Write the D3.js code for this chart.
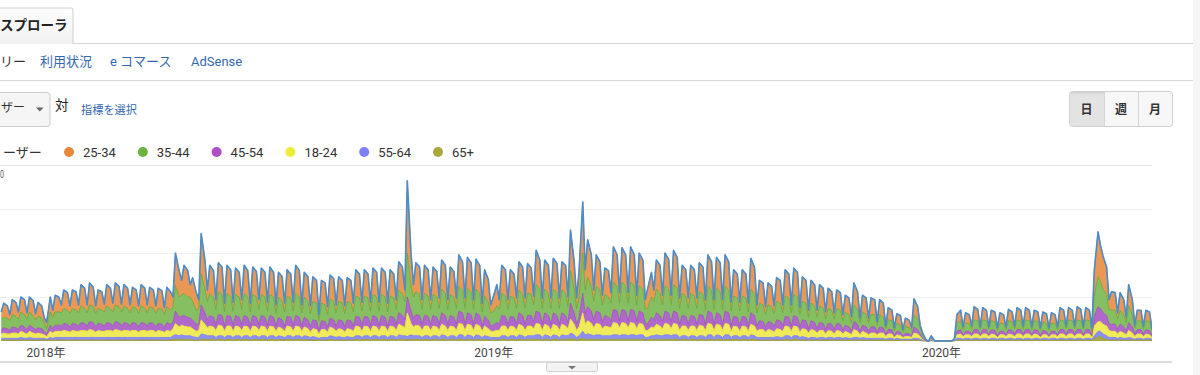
<!DOCTYPE html>
<html><head><meta charset="utf-8">
<script src="https://cdn.jsdelivr.net/npm/d3@7"></script>
<style>
html,body{margin:0;padding:0;background:#fff;overflow:hidden}
svg{display:block;font-family:Roboto,"Noto Sans CJK JP",Arial,sans-serif}
</style></head><body>
<svg id="c" width="1200" height="375"></svg>
<script>
// Readings per week starting Sun 2017-11-26: weekend (Sunday) and Tuesday values interleaved,
// plus a separate Friday reading per week.
const firstSunday = new Date(Date.UTC(2017, 10, 26));
const domainStart = new Date(Date.UTC(2017, 10, 25));
const domainEnd = new Date(Date.UTC(2020, 5, 21));

const age2534 = [
8,16,7,17,8,17,7,17,7,16,6,7,8,19,9,21,9,21,9,24,
9,25,9,21,9,24,10,25,9,24,9,22,9,24,9,22,9,23,8,22,
11,37,17,32,14,27,11,46,13,32,11,33,10,32,10,30,11,32,10,31,
11,30,10,31,9,28,10,30,10,32,9,28,9,28,7,26,9,27,9,28,
9,27,10,30,10,30,10,30,10,30,10,30,11,32,13,82,14,33,11,32,
11,31,12,33,11,31,12,36,12,35,11,34,10,30,9,17,11,32,11,30,
12,32,12,33,10,39,12,33,12,35,12,32,11,46,12,30,23,43,13,36,
11,30,12,40,12,39,12,40,11,37,11,23,13,33,11,37,11,39,12,32,
12,32,12,33,11,36,11,35,11,36,10,30,10,30,10,35,9,26,9,25,
9,27,9,30,9,30,8,28,8,26,8,24,8,23,7,21,7,19,7,25,
5,19,5,19,4,17,3,14,3,11,2,9,3,18,3,3,0,1,0,0,
0,0,0,10,3,12,3,15,3,14,3,12,3,12,3,13,3,14,3,14,
3,12,3,11,3,12,3,14,3,14,3,15,3,14,3,30,42,38,11,21,
7,20,6,24,3,12,3,12,
3];
const age3544 = [
12,12,11,14,12,15,12,15,11,13,10,6,13,15,15,17,15,17,15,19,
15,19,15,17,16,19,16,19,16,19,15,18,15,19,15,18,15,17,14,18,
18,29,24,25,24,21,17,35,21,25,17,26,16,25,16,24,17,25,16,24,
17,24,16,24,15,23,16,23,16,25,15,23,15,21,11,20,14,22,15,21,
15,21,16,23,16,23,16,24,16,24,16,23,17,26,21,50,24,26,17,25,
17,24,18,27,17,24,18,28,18,28,17,27,16,23,15,15,17,25,17,23,
18,26,18,26,19,30,18,27,18,27,18,26,18,37,18,23,27,33,21,28,
19,24,20,31,20,31,20,31,19,29,17,17,21,27,19,29,19,30,18,25,
18,25,18,26,17,28,17,28,17,28,16,23,16,23,16,27,15,20,14,19,
15,21,15,23,15,24,14,21,13,20,13,19,12,17,12,17,11,15,10,19,
10,15,10,14,8,14,6,11,6,9,5,8,6,14,7,3,0,2,0,0,
0,0,1,9,6,9,6,11,6,11,6,10,6,9,6,10,6,11,6,11,
6,10,6,10,6,9,6,11,6,11,6,11,6,11,6,23,30,27,17,16,
12,16,10,19,7,10,6,10,
5];
const age4554 = [
5,6,4,7,5,7,5,7,5,6,4,3,5,7,6,8,6,8,6,9,
6,9,6,8,6,9,6,9,6,9,6,9,6,9,6,9,6,8,6,9,
7,14,10,12,10,10,7,17,9,12,7,12,6,12,7,12,7,12,6,12,
7,12,7,12,6,11,6,11,7,12,6,11,6,10,4,10,6,10,6,10,
6,10,6,11,7,11,7,12,7,12,6,11,7,13,9,18,10,12,7,12,
7,12,7,13,7,12,7,14,7,13,7,13,6,11,6,7,7,12,7,11,
7,13,7,12,8,14,7,13,7,13,7,13,7,18,7,11,12,16,9,14,
8,12,8,15,8,15,8,15,8,14,7,8,9,13,8,14,8,14,7,12,
7,12,7,12,7,14,7,13,7,14,7,11,7,11,6,13,6,10,6,9,
6,10,6,11,6,12,6,10,5,10,5,9,5,8,5,8,4,7,4,9,
4,7,4,7,3,7,3,5,2,4,2,4,2,7,3,1,0,1,0,0,
0,0,0,4,2,4,3,5,2,5,2,5,2,4,2,5,3,5,3,5,
2,5,2,5,2,4,2,5,3,5,3,5,2,5,2,11,15,13,7,8,
5,8,4,9,3,5,3,5,
2];
const age1824 = [
5,6,5,6,5,7,5,7,5,6,4,3,6,7,7,8,6,8,7,8,
7,9,6,8,7,8,7,9,7,8,7,8,6,8,7,8,6,8,6,8,
8,13,11,11,10,9,8,16,9,11,8,12,7,11,7,11,8,11,7,11,
8,11,7,11,7,10,7,11,7,11,7,10,6,9,5,9,6,10,7,9,
6,9,7,11,7,11,7,11,7,11,7,11,8,12,9,27,10,12,8,11,
8,11,8,12,8,11,8,13,8,12,8,12,7,11,7,7,8,11,8,11,
8,12,8,11,8,13,8,12,8,12,8,12,8,16,8,10,12,15,9,13,
8,11,9,14,9,14,9,14,8,13,8,8,9,12,8,13,8,13,8,11,
8,11,8,12,8,13,8,12,8,13,7,11,7,11,7,12,7,9,6,9,
6,9,7,11,7,11,6,9,6,9,6,8,5,8,5,8,5,7,4,9,
4,7,4,6,4,6,3,5,2,4,2,3,2,6,3,1,0,1,0,0,
0,0,1,4,3,4,3,5,3,5,3,5,2,4,3,5,3,5,3,5,
3,5,2,4,2,4,3,5,3,5,3,5,3,5,2,11,11,11,8,7,
5,7,4,8,3,5,3,5,
2];
const age5564 = [
2,2,2,2,2,3,2,3,2,2,2,1,2,3,3,3,3,3,3,3,
3,3,3,3,3,3,3,3,3,3,3,3,3,3,3,3,3,3,3,3,
4,5,5,4,4,4,3,6,4,4,3,4,3,4,3,4,3,4,3,4,
3,4,3,4,3,4,3,4,3,4,3,4,3,4,2,3,3,4,3,4,
3,4,3,4,3,4,3,4,3,4,3,4,3,5,4,4,4,4,3,4,
3,4,3,5,3,4,3,5,3,5,3,5,3,4,3,3,3,4,3,4,
3,5,3,4,4,5,3,5,3,5,3,5,4,6,3,4,5,6,4,5,
4,4,4,5,4,5,4,5,4,5,3,3,4,5,4,5,4,5,3,4,
3,4,3,4,3,5,3,5,3,5,3,4,3,4,3,5,3,3,3,3,
3,4,3,4,3,4,3,4,2,3,2,3,2,3,2,3,2,3,2,3,
2,3,2,2,2,2,1,2,1,2,1,1,1,2,1,1,0,1,0,0,
0,0,1,2,1,2,1,2,1,2,1,2,1,2,1,2,1,2,1,2,
1,2,1,2,1,2,1,2,1,2,1,2,1,2,1,4,6,5,3,3,
2,3,2,3,1,2,1,2,
1];
const age65 = [
1,1,1,1,1,1,1,1,1,1,1,1,1,1,1,1,1,1,1,1,
1,1,1,1,1,1,1,1,1,1,1,1,1,1,1,1,1,1,1,1,
2,2,2,2,2,1,1,2,2,2,1,2,1,2,1,2,1,2,1,2,
1,2,1,2,1,2,1,2,1,2,1,2,1,1,1,1,1,2,1,1,
1,1,1,2,1,2,1,2,1,2,1,2,1,2,2,1,2,2,1,2,
1,2,1,2,1,2,1,2,1,2,1,2,1,2,1,1,1,2,1,2,
1,2,1,2,2,2,1,2,1,2,1,2,2,3,1,2,2,2,2,2,
2,2,2,2,2,2,2,2,2,2,1,1,2,2,2,2,2,2,1,2,
1,2,1,2,1,2,1,2,1,2,1,2,1,2,1,2,1,1,1,1,
1,1,1,2,1,2,1,1,1,1,1,1,1,1,1,1,1,1,1,1,
1,1,1,1,1,1,1,1,1,1,1,1,1,1,1,0,0,0,0,0,
0,0,0,1,1,1,1,1,1,1,1,1,1,1,1,1,1,1,1,1,
1,1,1,1,1,1,1,1,1,1,1,1,1,1,1,2,5,3,1,1,
1,1,1,1,1,1,1,1,
1];

// Friday readings, one per week
const fri2534 = [
14,16,17,18,14,17,17,20,21,23, 22,21,23,23,23,21,23,21,21,21,
30,30,20,33,30,31,30,28,30,29, 28,28,28,27,30,28,26,25,26,26,
26,27,27,28,28,27,31,37,31,30, 29,32,29,32,33,32,26,24,30,27,
31,30,33,32,33,32,32,58,36,32, 30,36,36,36,33,28,32,34,35,30,
30,31,32,33,32,27,27,31,25,23, 26,27,28,26,24,23,21,20,19,21,
19,17,16,12,11,9,15,0,0,0, 0,12,10,13,12,11,10,11,12,12,
11,11,10,12,12,13,12,51,31,20, 17,17,12,11];
const fri3544 = [
12,13,14,13,12,15,15,16,16,17, 18,16,17,18,17,17,17,17,17,16,
23,23,16,27,23,24,23,23,23,23, 23,23,21,22,23,21,20,19,21,20,
20,22,22,23,23,22,24,29,24,23, 23,25,23,26,26,25,20,19,23,22,
24,24,27,25,26,25,26,46,28,26, 23,28,28,28,27,23,25,27,28,23,
23,24,26,26,26,22,22,24,19,18, 20,22,23,20,19,17,16,16,14,16,
14,14,12,10,8,7,11,1,0,0, 0,10,9,10,10,10,9,10,10,10,
10,9,9,10,10,10,10,34,24,16, 14,14,10,10];
const fri4554 = [
6,6,7,6,6,7,7,8,8,8, 9,8,8,9,8,8,8,8,8,8,
11,11,8,13,11,12,11,11,11,11, 11,11,10,11,11,10,10,9,10,10,
10,11,11,11,11,11,12,14,12,11, 11,12,11,13,12,12,10,9,11,11,
12,12,13,12,12,12,13,22,14,13, 11,14,14,14,13,11,12,13,13,11,
11,12,13,12,13,11,11,12,9,9, 10,11,11,10,9,8,8,8,7,8,
7,7,6,5,4,3,5,0,0,0, 0,5,4,5,5,5,4,5,5,5,
5,4,4,5,5,5,5,17,12,8, 7,7,5,5];
const fri1824 = [
5,6,6,6,5,7,7,7,7,8, 8,7,8,8,8,8,8,8,7,7,
10,10,7,12,10,11,11,10,10,10, 10,10,9,10,10,9,9,9,9,9,
9,10,10,10,10,10,11,13,11,11, 10,11,10,12,12,11,9,8,11,10,
11,11,12,11,11,11,12,21,13,12, 10,13,13,13,12,10,11,12,12,11,
11,11,12,12,12,10,10,11,9,8, 9,10,10,9,8,8,7,7,6,7,
6,6,6,5,4,3,5,0,0,0, 0,5,4,5,5,4,4,4,5,5,
4,4,4,5,5,5,5,11,11,7, 6,6,5,4];
const fri5564 = [
2,2,2,2,2,3,3,3,3,3, 3,3,3,3,3,3,3,3,3,3,
4,4,3,5,4,4,4,4,4,4, 4,4,4,4,4,4,3,3,4,3,
3,4,4,4,4,4,4,5,4,4, 4,4,4,5,4,4,4,3,4,4,
4,4,5,4,4,4,5,8,5,5, 4,5,5,5,5,4,4,5,5,4,
4,4,5,4,5,4,4,4,3,3, 3,4,4,3,3,3,3,3,2,3,
2,2,2,2,1,1,2,0,0,0, 0,2,2,2,2,2,2,2,2,2,
2,2,2,2,2,2,2,6,4,3, 2,2,2,2];
const fri65 = [
1,1,1,1,1,1,1,1,1,1, 1,1,1,1,1,1,1,1,1,1,
2,2,1,2,2,2,2,2,2,2, 2,2,1,2,2,1,1,1,1,1,
1,2,2,2,2,2,2,2,2,2, 2,2,2,2,2,2,1,1,2,2,
2,2,2,2,2,2,2,3,2,2, 2,2,2,2,2,2,2,2,2,2,
2,2,2,2,2,2,2,2,1,1, 1,2,2,1,1,1,1,1,1,1,
1,1,1,1,1,1,1,0,0,0, 0,1,1,1,1,1,1,1,1,1,
1,1,1,1,1,1,1,5,2,1, 1,1,1,1];

const seriesKeys = ["65+","55-64","18-24","45-54","35-44","25-34"]; // stack bottom -> top
const seriesValues = {"25-34":age2534,"35-44":age3544,"45-54":age4554,"18-24":age1824,"55-64":age5564,"65+":age65};
const fridayValues = {"25-34":fri2534,"35-44":fri3544,"45-54":fri4554,"18-24":fri1824,"55-64":fri5564,"65+":fri65};
const legendLabels = ["25-34","35-44","45-54","18-24","55-64","65+"];
const yearLabels = ["2018年","2019年","2020年"];
const yearDates = [new Date(Date.UTC(2018,0,1)), new Date(Date.UTC(2019,0,1)), new Date(Date.UTC(2020,0,1))];
const yTicks = [50,100,150,200];
const navLabels = ["利用状況","e コマース","AdSense"];
const periodLabels = ["日","週","月"];

const dotColor = {"25-34":"#e8873a","35-44":"#6cb340","45-54":"#ab50c6","18-24":"#efeb3c","55-64":"#7f80f6","65+":"#a9a83e"};
const fillColor = {"25-34":"#ea9853","35-44":"#86bf61","45-54":"#b068ca","18-24":"#efeb5a","55-64":"#8e8ff3","65+":"#a8a84c"};
const edgeColor = {"25-34":"#e6852f","35-44":"#66a93d","45-54":"#a24ec0","18-24":"#e9e52f","55-64":"#7c7df0","65+":"#98983a"};

const n = age2534.length, weeks = fri2534.length;
Object.values(seriesValues).forEach(a => { if (a.length !== n) throw new Error("length mismatch " + a.length + " vs " + n); });
Object.values(fridayValues).forEach(a => { if (a.length !== weeks) throw new Error("fri length mismatch " + a.length + " vs " + weeks); });

const rows = [];
for (let k = 0; k <= weeks; k++) {
  const sun = {date: d3.utcDay.offset(firstSunday, k*7)};
  seriesKeys.forEach(s => sun[s] = seriesValues[s][2*k]);
  rows.push(sun);
  if (k === weeks) break;
  const tue = {date: d3.utcDay.offset(firstSunday, k*7 + 2)};
  seriesKeys.forEach(s => tue[s] = seriesValues[s][2*k+1]);
  rows.push(tue);
  const fri = {date: d3.utcDay.offset(firstSunday, k*7 + 5)};
  seriesKeys.forEach(s => fri[s] = fridayValues[s][k]);
  rows.push(fri);
}

const svg = d3.select("#c");
const blue = "#3567b0";

// right scroll strip
svg.append("rect").attr("x",1193).attr("y",0).attr("width",7).attr("height",375).attr("fill","#f6f6f6");

// tab
const grad = svg.append("defs").append("linearGradient").attr("id","tabg").attr("x1",0).attr("y1",0).attr("x2",0).attr("y2",1);
grad.append("stop").attr("offset","0").attr("stop-color","#fdfdfd");
grad.append("stop").attr("offset","1").attr("stop-color","#f1f1f1");
svg.append("path").attr("d","M-2,44V10Q-2,8 0,8H71Q73,8 73,10V44").attr("fill","url(#tabg)").attr("stroke","#cfcfcf");
svg.append("text").attr("x",0).attr("y",30).attr("font-size",13.5).attr("font-weight","bold").attr("fill","#222").text("スプローラ");
svg.append("line").attr("x1",73).attr("x2",1193).attr("y1",43.5).attr("y2",43.5).attr("stroke","#d4d4d4");

// nav
svg.append("text").attr("x",0).attr("y",66).attr("font-size",13).attr("fill","#333").text("リー");
const navX = [40,110,191];
navLabels.forEach((t,i)=> svg.append("text").attr("x",navX[i]).attr("y",66).attr("font-size",13).attr("fill",blue).text(t));
svg.append("line").attr("x1",0).attr("x2",1193).attr("y1",80.5).attr("y2",80.5).attr("stroke","#d9d9d9");

// dropdown
svg.append("rect").attr("x",-6).attr("y",92.5).attr("width",56).attr("height",34).attr("rx",3).attr("fill","#f5f5f5").attr("stroke","#cacaca");
svg.append("text").attr("x",1).attr("y",112).attr("font-size",12).attr("fill","#333").text("ザー");
svg.append("path").attr("d","M36,107.5L43.5,107.5L39.75,111.5Z").attr("fill","#666");
svg.append("text").attr("x",55).attr("y",110).attr("font-size",13.5).attr("fill","#222").text("対");
svg.append("text").attr("x",81).attr("y",114).attr("font-size",11.2).attr("fill",blue).text("指標を選択");

// period buttons
const bx = [1069,1104,1138], bw = [35,34,34];
svg.append("rect").attr("x",1069.5).attr("y",91.5).attr("width",103).attr("height",35).attr("rx",3).attr("fill","#f7f7f7").attr("stroke","#cfcfcf");
svg.append("rect").attr("x",1070).attr("y",92).attr("width",34).attr("height",34).attr("fill","#e3e3e3");
svg.append("rect").attr("x",1070).attr("y",92).attr("width",34).attr("height",2).attr("fill","#d6d6d6");
[1104.5,1138.5].forEach(xx=> svg.append("line").attr("x1",xx).attr("x2",xx).attr("y1",92).attr("y2",126).attr("stroke","#d6d6d6"));
periodLabels.forEach((t,i)=> svg.append("text").attr("x",bx[i]+bw[i]/2).attr("y",113.5).attr("text-anchor","middle").attr("font-size",12).attr("font-weight","bold").attr("fill","#333").text(t));

// legend
svg.append("text").attr("x",3).attr("y",157).attr("font-size",13).attr("fill","#333").text("ーザー");
legendLabels.forEach((lab,i)=>{
  const cx = 69 + i*73.8;
  svg.append("circle").attr("cx",cx).attr("cy",152).attr("r",5).attr("fill",dotColor[lab]);
  svg.append("text").attr("x",cx+14).attr("y",157).attr("font-size",13).attr("fill","#333").text(lab);
});

// scales
const x = d3.scaleUtc().domain([domainStart, domainEnd]).range([0, 1152]);
const y = d3.scaleLinear().domain([0,200]).range([341,165]);

// grid
const grid = svg.append("g");
yTicks.forEach(t => grid.append("line").attr("x1",0).attr("x2",1152).attr("y1",Math.round(y(t))+0.5).attr("y2",Math.round(y(t))+0.5)
  .attr("stroke", t===200 ? "#e6e6e6" : "#efefef"));
svg.append("text").attr("x",0).attr("y",178).attr("font-size",10).attr("fill","#666").attr("textLength",4).attr("lengthAdjust","spacingAndGlyphs").text("0");

// stacked areas
const stacked = d3.stack().keys(seriesKeys)(rows);
const area = d3.area().x(d=>x(d.data.date)).y0(d=>y(d[0])).y1(d=>y(d[1]));
const edge = d3.line().x(d=>x(d.data.date)).y(d=>y(d[1]));
svg.append("clipPath").attr("id","clip").append("rect").attr("x",0).attr("y",150).attr("width",1152).attr("height",192);
const plot = svg.append("g").attr("clip-path","url(#clip)");
stacked.forEach(s=>{
  plot.append("path").datum(s).attr("d",area).attr("fill",fillColor[s.key]);
});
stacked.forEach(s=>{
  plot.append("path").datum(s).attr("d",edge).attr("fill","none").attr("stroke",edgeColor[s.key]).attr("stroke-width",0.9);
});
const topLayer = stacked[stacked.length-1];
plot.append("path").datum(topLayer).attr("d",edge).attr("fill","none").attr("stroke","#4a8dcc").attr("stroke-width",1.6).attr("stroke-linejoin","round");

// x axis years
const ax = svg.append("g").attr("transform","translate(0,341)")
  .call(d3.axisBottom(x).tickValues(yearDates).tickFormat((d,i)=>yearLabels[i]).tickSize(0).tickPadding(7));
ax.select(".domain").remove();
ax.selectAll("text").attr("font-size",12).attr("fill","#444").attr("font-family",'Roboto,"Noto Sans CJK JP",sans-serif');

// bottom bar and tab
svg.append("rect").attr("x",0).attr("y",361).attr("width",1172).attr("height",2).attr("fill","#dcdcdc");
svg.append("rect").attr("x",546.5).attr("y",362.5).attr("width",51).attr("height",9).attr("rx",2).attr("fill","#f3f3f3").attr("stroke","#d0d0d0");
svg.append("path").attr("d","M568,366L576,366L572,369.5Z").attr("fill","#777");
</script>
</body></html>
